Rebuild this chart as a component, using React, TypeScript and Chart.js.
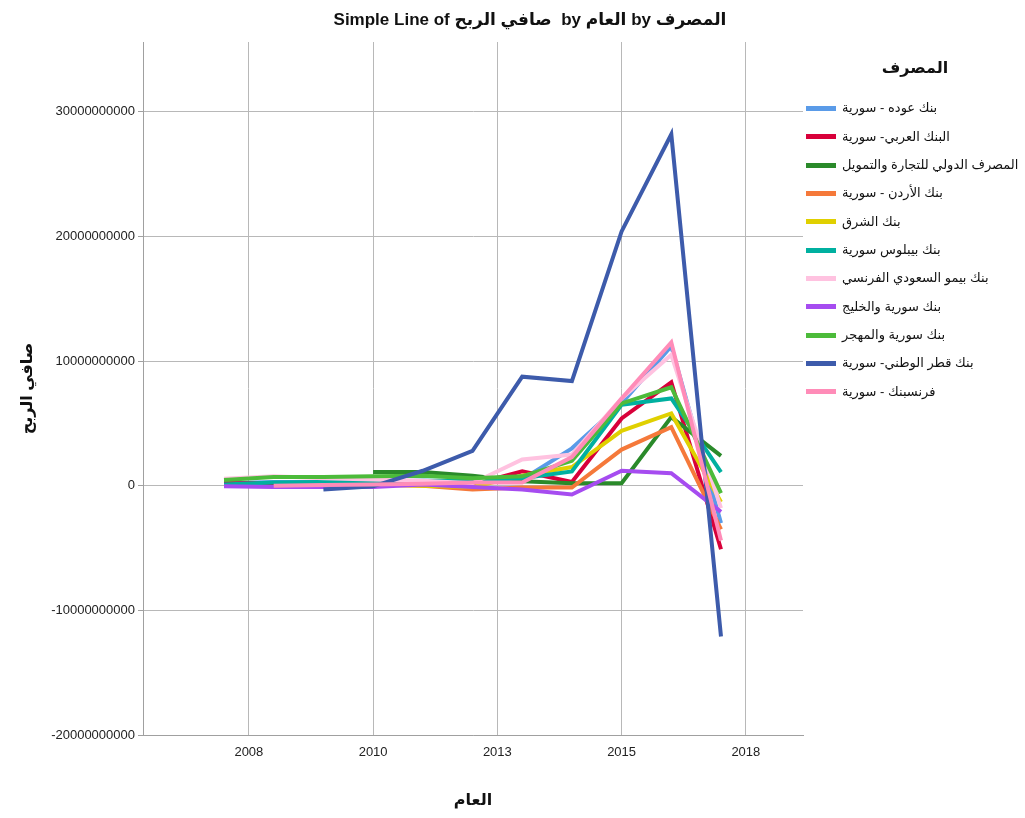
import React, { useEffect, useRef } from "react";
import { Chart, registerables } from "chart.js";

Chart.register(...registerables);

const years = [2007, 2008, 2009, 2010, 2011, 2012, 2013, 2014, 2015, 2016, 2017];

const bankNames = [
  "بنك عوده - سورية",
  "البنك العربي- سورية",
  "المصرف الدولي للتجارة والتمويل",
  "بنك الأردن - سورية",
  "بنك الشرق",
  "بنك بيبلوس سورية",
  "بنك بيمو السعودي الفرنسي",
  "بنك سورية والخليج",
  "بنك سورية والمهجر",
  "بنك قطر الوطني- سورية",
  "فرنسبنك - سورية",
];

const bankColors = [
  "#5a9be8",
  "#d8003a",
  "#2a8a2a",
  "#f5793a",
  "#e0d000",
  "#00b0a0",
  "#ffc2e0",
  "#a64cf0",
  "#4cbb3a",
  "#3d5bab",
  "#ff8cb8",
];

const audiValues = [0.2e9, 0.3e9, 0.3e9, 0.3e9, 0.4e9, 0.3e9, 0.5e9, 3.0e9, 6.6e9, 11.2e9, -3.0e9];
const arabValues = [0.2e9, 0.2e9, 0.2e9, 0.2e9, 0.2e9, 0.1e9, 1.15e9, 0.3e9, 5.4e9, 8.3e9, -5.1e9];
const intlValues = [null, null, null, 1.1e9, 1.1e9, 0.8e9, 0.35e9, 0.2e9, 0.2e9, 5.5e9, 2.4e9];
const jordanValues = [null, null, 0.1e9, 0.1e9, 0.0, -0.3e9, -0.15e9, -0.15e9, 2.9e9, 4.7e9, -3.5e9];
const sharqValues = [null, 0.2e9, 0.2e9, 0.1e9, 0.0, -0.1e9, 0.8e9, 1.5e9, 4.4e9, 5.8e9, -1.3e9];
const byblosValues = [0.1e9, 0.25e9, 0.3e9, 0.35e9, 0.4e9, 0.4e9, 0.6e9, 1.15e9, 6.5e9, 7.0e9, 1.1e9];
const bemoValues = [0.55e9, 0.75e9, 0.6e9, 0.5e9, 0.4e9, 0.2e9, 2.1e9, 2.5e9, 7.0e9, 10.5e9, -1.8e9];
const gulfValues = [-0.05e9, -0.1e9, -0.1e9, -0.1e9, 0.1e9, -0.1e9, -0.3e9, -0.7e9, 1.2e9, 1.0e9, -2.1e9];
const mohajerValues = [0.45e9, 0.7e9, 0.7e9, 0.75e9, 0.8e9, 0.6e9, 0.75e9, 2.0e9, 6.6e9, 7.9e9, -0.6e9];
const qnbValues = [null, null, -0.3e9, -0.05e9, 1.2e9, 2.8e9, 8.75e9, 8.4e9, 20.4e9, 28.2e9, -12.1e9];
const fransaValues = [null, 0.0, 0.05e9, 0.1e9, 0.15e9, 0.25e9, 0.25e9, 2.3e9, 7.0e9, 11.5e9, -4.4e9];

const seriesValues = [
  audiValues,
  arabValues,
  intlValues,
  jordanValues,
  sharqValues,
  byblosValues,
  bemoValues,
  gulfValues,
  mohajerValues,
  qnbValues,
  fransaValues,
];

const xTickValues = [2007.5, 2010, 2012.5, 2015, 2017.5];
const xTickLabels = ["2008", "2010", "2013", "2015", "2018"];
const yTickValues = [-20000000000, -10000000000, 0, 10000000000, 20000000000, 30000000000];

const titleText = "Simple Line of صافي الربح  by العام by المصرف";
const xTitle = "العام";
const yTitle = "صافي الربح";
const legendTitle = "المصرف";

const FONT = "'Liberation Sans', Arial, 'DejaVu Sans', sans-serif";
const GRID = "#b8b8b8";

export default function App() {
  const canvasRef = useRef<HTMLCanvasElement | null>(null);

  useEffect(() => {
    const canvas = canvasRef.current;
    if (!canvas) return;
    const n = seriesValues.length;
    const chart = new Chart(canvas, {
      type: "line",
      data: {
        datasets: seriesValues.map((vals, i) => ({
          label: bankNames[i],
          data: vals.map((v, j) => ({ x: years[j], y: v })),
          borderColor: bankColors[i],
          backgroundColor: bankColors[i],
          borderWidth: 4,
          pointRadius: 0,
          tension: 0,
          fill: false,
          spanGaps: false,
          order: n - i,
        })),
      },
      options: {
        responsive: false,
        animation: false,
        devicePixelRatio: 1,
        layout: { padding: { top: 42, right: 222, left: 0, bottom: 0 } },
        plugins: {
          legend: { display: false },
          title: { display: false },
          tooltip: { enabled: false },
        },
        scales: {
          x: {
            type: "linear",
            min: 2005.37,
            max: 2018.65,
            afterBuildTicks: (s: any) => {
              s.ticks = xTickValues.map((v) => ({ value: v }));
            },
            afterFit: (s: any) => {
              s.height = 83;
            },
            ticks: {
              callback: (_v: any, i: number) => xTickLabels[i],
              font: { family: FONT, size: 13 },
              color: "#222",
              padding: 10,
              maxRotation: 0,
              autoSkip: false,
            },
            grid: { color: GRID, lineWidth: 1, drawTicks: false },
            border: { color: "#a0a0a0", width: 1 },
            title: {
              display: true,
              text: xTitle,
              font: { family: FONT, size: 16, weight: "bold" },
              color: "#111",
              padding: { top: 0, bottom: 8 },
            },
          },
          y: {
            type: "linear",
            min: -20000000000,
            max: 35600000000,
            afterBuildTicks: (s: any) => {
              s.ticks = yTickValues.map((v) => ({ value: v }));
            },
            afterFit: (s: any) => {
              s.width = 143;
            },
            ticks: {
              callback: (v: any) => String(v),
              font: { family: FONT, size: 13 },
              color: "#222",
              padding: 3,
            },
            grid: { color: GRID, lineWidth: 1, drawTicks: true, tickLength: 5, tickColor: "#a0a0a0" },
            border: { color: "#a0a0a0", width: 1 },
            title: {
              display: true,
              text: yTitle,
              font: { family: FONT, size: 16, weight: "bold" },
              color: "#111",
              padding: { top: 18, bottom: 0 },
            },
          },
        },
      },
    });
    return () => chart.destroy();
  }, []);

  return (
    <div
      style={{
        position: "fixed",
        left: 0,
        top: 0,
        width: 1025,
        height: 818,
        background: "#fff",
        overflow: "hidden",
        fontFamily: FONT,
      }}
    >
      <canvas ref={canvasRef} width={1025} height={818} style={{ display: "block" }} />
      <div
        style={{
          position: "absolute",
          left: 0,
          width: 1060,
          top: 8,
          textAlign: "center",
          fontSize: 17,
          fontWeight: "bold",
          color: "#111",
          whiteSpace: "pre",
          lineHeight: "24px",
        }}
      >
        {titleText}
      </div>
      <div
        style={{
          position: "absolute",
          left: 815,
          width: 200,
          top: 56,
          textAlign: "center",
          fontSize: 16,
          fontWeight: "bold",
          color: "#111",
          lineHeight: "24px",
        }}
      >
        {legendTitle}
      </div>
      {bankNames.map((name, i) => (
        <div
          key={name}
          style={{
            position: "absolute",
            left: 806,
            top: 108.3 + i * 28.35 - 10,
            height: 20,
            display: "flex",
            alignItems: "center",
            whiteSpace: "nowrap",
          }}
        >
          <div style={{ width: 30, height: 5, background: bankColors[i], marginRight: 6 }} />
          <span style={{ fontSize: 13, color: "#111", lineHeight: "20px" }}>{name}</span>
        </div>
      ))}
    </div>
  );
}
